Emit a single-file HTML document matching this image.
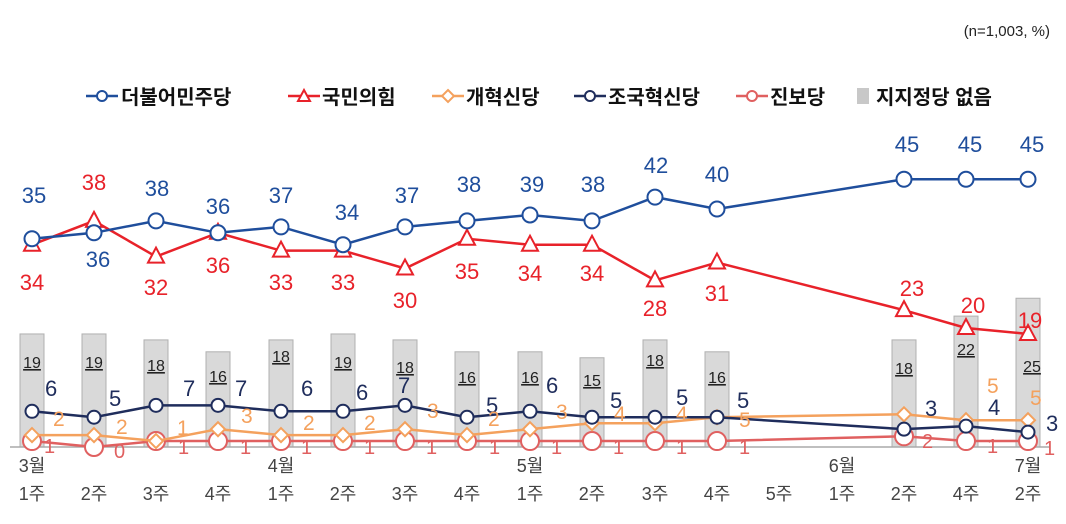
<!DOCTYPE html>
<html><head><meta charset="utf-8"><style>
body{margin:0;background:#fff;}
svg{display:block;font-family:"Liberation Sans","Noto Sans CJK KR",sans-serif;}
.b{fill:#1f4e9c;font-size:22px;text-anchor:middle}
.r{fill:#e8222a;font-size:22px;text-anchor:middle}
.n{fill:#1f2d5c;font-size:22px}
.o{fill:#f4a15d;font-size:21px}
.p{fill:#e06060;font-size:20px}
.k{fill:#222;font-size:16px;text-anchor:middle;text-decoration:underline}
.x{fill:#444;font-size:18px;text-anchor:middle}
.lg{font-size:20px;fill:#111;font-weight:bold}
</style></head><body>
<svg width="1066" height="524" viewBox="0 0 1066 524">
<text x="1050" y="36" font-size="15" fill="#222" text-anchor="end">(n=1,003,  %)</text>
<g>
<line x1="86" y1="96" x2="118" y2="96" stroke="#1f4e9c" stroke-width="2.5"/><circle cx="102" cy="96" r="5" fill="#fff" stroke="#1f4e9c" stroke-width="2"/><text class="lg" x="121" y="104">더불어민주당</text>
<line x1="288" y1="96" x2="320" y2="96" stroke="#e8222a" stroke-width="2.5"/><path d="M304,90 L310,101 L298,101Z" fill="#fff" stroke="#e8222a" stroke-width="2"/><text class="lg" x="322" y="104">국민의힘</text>
<line x1="432" y1="96" x2="464" y2="96" stroke="#f4a15d" stroke-width="2.5"/><path d="M448,90 L454,96 L448,102 L442,96Z" fill="#fff" stroke="#f4a15d" stroke-width="2"/><text class="lg" x="466" y="104">개혁신당</text>
<line x1="574" y1="96" x2="606" y2="96" stroke="#1f2d5c" stroke-width="2.5"/><circle cx="590" cy="96" r="5" fill="#fff" stroke="#1f2d5c" stroke-width="2"/><text class="lg" x="608" y="104">조국혁신당</text>
<line x1="736" y1="96" x2="768" y2="96" stroke="#e06060" stroke-width="2.5"/><circle cx="752" cy="96" r="5" fill="#fff" stroke="#e06060" stroke-width="2"/><text class="lg" x="770" y="104">진보당</text>
<rect x="857" y="88" width="12" height="16" fill="#c8c8c8"/><text class="lg" x="876" y="104">지지정당 없음</text>
</g>
<g id="bars" fill="#d9d9d9" stroke="#b0b0b0" stroke-width="1"></g>
<line x1="10" y1="447" x2="1050" y2="447" stroke="#aaa" stroke-width="1.5"/>
<g id="lines"></g>
<g class="k">
<text x="32" y="368">19</text><text x="94" y="368">19</text><text x="156" y="371">18</text><text x="218" y="382">16</text><text x="281" y="362">18</text><text x="343" y="368">19</text><text x="405" y="373">18</text><text x="467" y="383">16</text><text x="530" y="383">16</text><text x="592" y="386">15</text><text x="655" y="366">18</text><text x="717" y="383">16</text><text x="904" y="374">18</text><text x="966" y="355">22</text><text x="1032" y="372">25</text>
</g>
<g class="b">
<text x="34" y="203">35</text><text x="98" y="267">36</text><text x="157" y="196">38</text><text x="218" y="214">36</text><text x="281" y="203">37</text><text x="347" y="220">34</text><text x="407" y="203">37</text><text x="469" y="192">38</text><text x="532" y="192">39</text><text x="593" y="192">38</text><text x="656" y="173">42</text><text x="717" y="182">40</text><text x="907" y="152">45</text><text x="970" y="152">45</text><text x="1032" y="152">45</text>
</g>
<g class="r">
<text x="32" y="290">34</text><text x="94" y="190">38</text><text x="156" y="295">32</text><text x="218" y="273">36</text><text x="281" y="290">33</text><text x="343" y="290">33</text><text x="405" y="308">30</text><text x="467" y="279">35</text><text x="530" y="281">34</text><text x="592" y="281">34</text><text x="655" y="316">28</text><text x="717" y="301">31</text><text x="912" y="296">23</text><text x="973" y="313">20</text><text x="1030" y="328">19</text>
</g>
<g class="n">
<text x="45" y="396">6</text><text x="109" y="406">5</text><text x="183" y="396">7</text><text x="235" y="396">7</text><text x="301" y="396">6</text><text x="356" y="400">6</text><text x="398" y="393">7</text><text x="486" y="413">5</text><text x="546" y="393">6</text><text x="610" y="408">5</text><text x="676" y="405">5</text><text x="737" y="408">5</text><text x="925" y="416">3</text><text x="988" y="415">4</text><text x="1046" y="431">3</text>
</g>
<g class="o">
<text x="53" y="426">2</text><text x="116" y="434">2</text><text x="177" y="435">1</text><text x="241" y="423">3</text><text x="303" y="430">2</text><text x="364" y="430">2</text><text x="427" y="418">3</text><text x="488" y="426">2</text><text x="556" y="419">3</text><text x="614" y="421">4</text><text x="676" y="421">4</text><text x="739" y="427">5</text><text x="987" y="393">5</text><text x="1030" y="405">5</text>
</g>
<g class="p">
<text x="44" y="453">1</text><text x="114" y="458">0</text><text x="178" y="454">1</text><text x="240" y="454">1</text><text x="301" y="454">1</text><text x="364" y="454">1</text><text x="426" y="454">1</text><text x="489" y="454">1</text><text x="551" y="454">1</text><text x="613" y="454">1</text><text x="676" y="454">1</text><text x="739" y="454">1</text><text x="922" y="448">2</text><text x="987" y="453">1</text><text x="1044" y="455">1</text>
</g>
<g class="x">
<text x="32" y="472">3월</text><text x="32" y="500">1주</text>
<text x="94" y="500">2주</text><text x="156" y="500">3주</text><text x="218" y="500">4주</text>
<text x="281" y="472">4월</text><text x="281" y="500">1주</text>
<text x="343" y="500">2주</text><text x="405" y="500">3주</text><text x="467" y="500">4주</text>
<text x="530" y="472">5월</text><text x="530" y="500">1주</text>
<text x="592" y="500">2주</text><text x="655" y="500">3주</text><text x="717" y="500">4주</text><text x="779" y="500">5주</text>
<text x="842" y="472">6월</text><text x="842" y="500">1주</text>
<text x="904" y="500">2주</text><text x="966" y="500">4주</text>
<text x="1028" y="472">7월</text><text x="1028" y="500">2주</text>
</g>
</svg>
<script>
var xs=[32,94,156,218,281,343,405,467,530,592,655,717,904,966,1028];
function y(v){return 447-5.95*v;}
var bars=[19,19,18,16,18,19,18,16,16,15,18,16,18,22,25];
var bl=[35,36,38,36,37,34,37,38,39,38,42,40,45,45,45];
var rd=[34,38,32,36,33,33,30,35,34,34,28,31,23,20,19];
var or=[2,2,1,3,2,2,3,2,3,4,4,5,5.5,4.5,4.5];
var nv=[6,5,7,7,6,6,7,5,6,5,5,5,3,3.5,2.5];
var pk=[1,0,1,1,1,1,1,1,1,1,1,1,1.8,1,1];
var s="";
bars.forEach(function(v,i){s+='<rect x="'+(xs[i]-12)+'" y="'+y(v)+'" width="24" height="'+(447-y(v))+'"/>';});
document.getElementById('bars').innerHTML=s;
function pl(d,c,w){return '<polyline fill="none" stroke="'+c+'" stroke-width="'+w+'" points="'+d.map(function(v,i){return xs[i]+','+y(v);}).join(' ')+'"/>';}
var g='';
g+=pl(pk,'#e06060',2.5);
pk.forEach(function(v,i){g+='<circle cx="'+xs[i]+'" cy="'+y(v)+'" r="9" fill="#fff" stroke="#e06060" stroke-width="2"/>';});
g+=pl(or,'#f4a15d',2.5);
or.forEach(function(v,i){var X=xs[i],Y=y(v);g+='<path d="M'+X+','+(Y-7)+' L'+(X+7)+','+Y+' L'+X+','+(Y+7)+' L'+(X-7)+','+Y+'Z" fill="#fff" stroke="#f4a15d" stroke-width="2"/>';});
g+=pl(nv,'#1f2d5c',2.5);
nv.forEach(function(v,i){g+='<circle cx="'+xs[i]+'" cy="'+y(v)+'" r="6.5" fill="#fff" stroke="#1f2d5c" stroke-width="2"/>';});
g+=pl(rd,'#e8222a',2.5);
rd.forEach(function(v,i){var X=xs[i],Y=y(v);g+='<path d="M'+X+','+(Y-9)+' L'+(X+8)+','+(Y+6)+' L'+(X-8)+','+(Y+6)+'Z" fill="#fff" stroke="#e8222a" stroke-width="2"/>';});
g+=pl(bl,'#1f4e9c',2.5);
bl.forEach(function(v,i){g+='<circle cx="'+xs[i]+'" cy="'+y(v)+'" r="7.5" fill="#fff" stroke="#1f4e9c" stroke-width="2"/>';});
document.getElementById('lines').innerHTML=g;
</script>
</body></html>
